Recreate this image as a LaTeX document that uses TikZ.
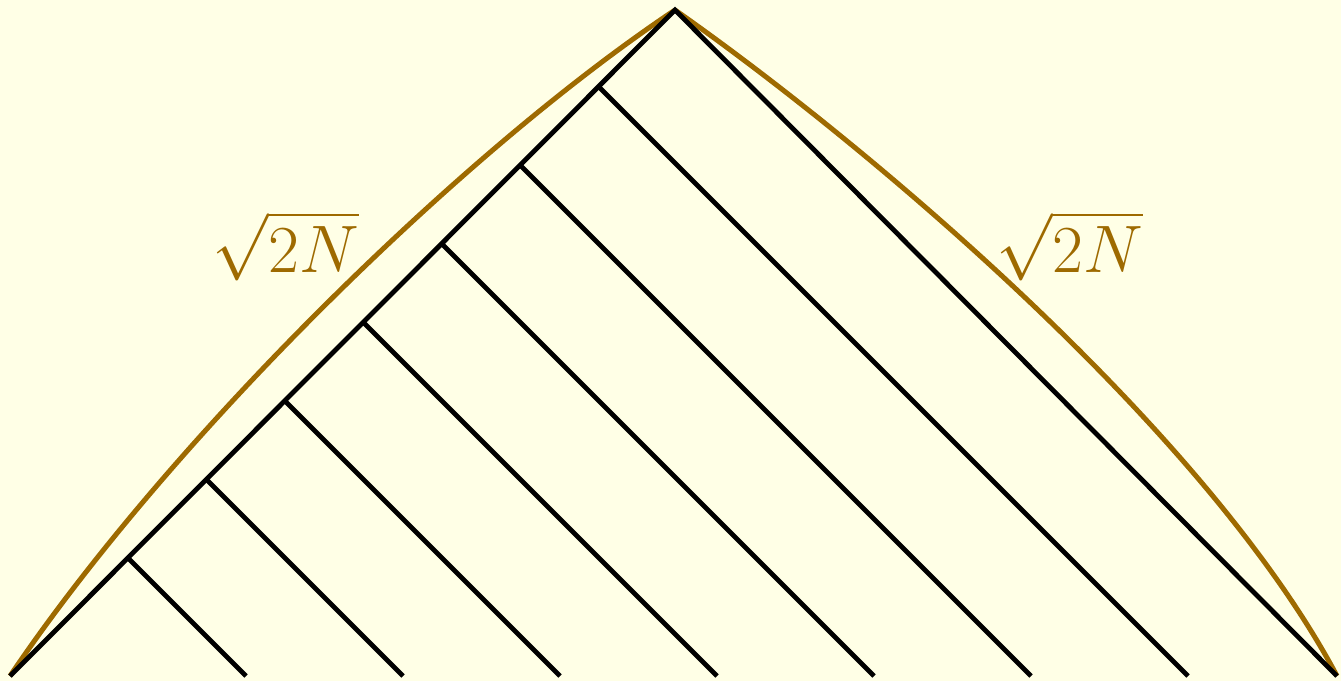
\documentclass[tikz,border=0pt]{standalone}
\definecolor{bgyellow}{RGB}{255,255,230}
\definecolor{goldline}{RGB}{158,106,0}
\begin{document}
\begin{tikzpicture}[x=1pt,y=-1pt,
  treeline/.style={line width=4.8pt,black},
  boundcurve/.style={line width=5pt,goldline},
  sizelabel/.style={text=goldline,font=\Huge,scale=2.7,inner sep=0pt}]
\fill[bgyellow] (0,0) rectangle (1341,681);
\useasboundingbox (0,0) rectangle (1341,681);
% main edges
\coordinate (L) at (10,676);
\coordinate (A) at (675,10);
\coordinate (R) at (1337,676);
% gold bounding curves
\draw[boundcurve] (L) .. controls (166.5,443.9) and (458.7,154.3) .. (A);
\draw[boundcurve] (A) .. controls (871.6,147.8) and (1208,433) .. (R);
% tree
\draw[treeline] (L) -- (A) -- (R);
\foreach \k in {1,...,7} {
  \pgfmathsetmacro\d{118+78.5*(\k-1)}
  \coordinate (p\k) at ({10+\d},{676-\d});
  \coordinate (q\k) at ({10+2*\d},676);
  \draw[treeline] (p\k) -- (q\k);
}
\node[sizelabel] (lab1) at (286,246) {$\sqrt{2N}$};
\node[sizelabel] (lab2) at (1070,246) {$\sqrt{2N}$};
\end{tikzpicture}
\end{document}
